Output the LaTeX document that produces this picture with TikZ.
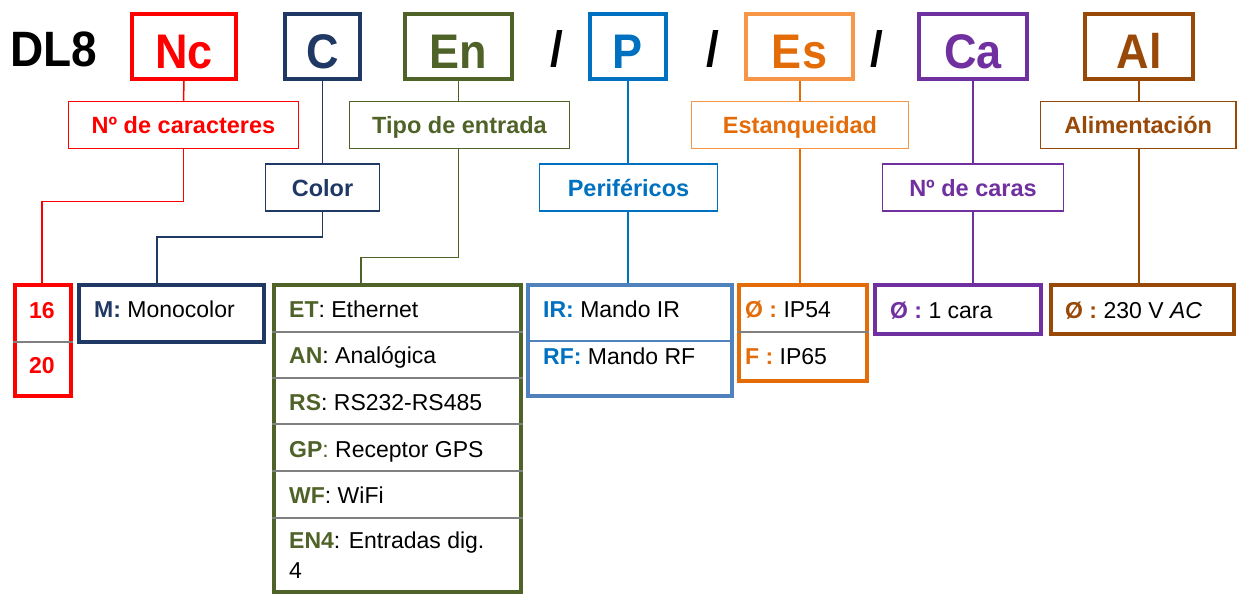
\documentclass[tikz,border=0pt]{standalone}
\usepackage{fontspec}
\setmainfont{Liberation Sans}
\definecolor{colNc}{HTML}{FF0000}
\definecolor{colC}{HTML}{1F3864}
\definecolor{colEn}{HTML}{4F6228}
\definecolor{colP}{HTML}{0070C0}
\definecolor{colPbox}{HTML}{4F81BD}
\definecolor{colEsL}{HTML}{F79646}
\definecolor{colEs}{HTML}{E36C09}
\definecolor{colCa}{HTML}{7030A0}
\definecolor{colAl}{HTML}{984807}
\definecolor{colDiv}{HTML}{808080}
\newcommand{\tallt}[1]{\scalebox{1}[1.08]{#1}}
\begin{document}
\begin{tikzpicture}[x=1pt,y=-1pt,
  topbox/.style={draw, line width=4pt, inner sep=0pt, minimum height=65pt,
    text height=43pt, text depth=0pt, font=\fontsize{45}{54}\selectfont\bfseries},
  labbox/.style={draw, line width=1.5pt, inner sep=0pt, minimum height=47pt,
    text height=17pt, text depth=0pt, font=\fontsize{23.5}{28}\selectfont\bfseries},
  botbox/.style={draw, line width=3.5pt, inner sep=0pt},
  bigtxt/.style={inner sep=0pt, anchor=base, font=\fontsize{46}{55}\selectfont\bfseries},
  txt/.style={anchor=base west, inner sep=0pt, font=\fontsize{23}{27}\selectfont},
  conn/.style={line width=1.5pt},
  divline/.style={line width=2pt, draw=colDiv}]
\useasboundingbox (0,0) rectangle (1237,595);

% title and slashes
\node[bigtxt, anchor=base west] (dl) at (10,66) {\tallt{DL8}};
\node[bigtxt] (s1) at (557,66) {\tallt{/}};
\node[bigtxt] (s2) at (713,66) {\tallt{/}};
\node[bigtxt] (s3) at (877,66) {\tallt{/}};

% top boxes
\node[topbox, draw=colNc, text=colNc, minimum width=104pt] (Nc) at (184,46.5) {\tallt{Nc}};
\node[topbox, draw=colC, text=colC, minimum width=75pt] (C) at (322.5,46.5) {\tallt{C}};
\node[topbox, draw=colEn, text=colEn, minimum width=107pt] (En) at (458.5,46.5) {\tallt{En}};
\node[topbox, draw=colP, text=colP, minimum width=76pt] (P) at (628,46.5) {\tallt{P}};
\node[topbox, draw=colEsL, text=colEs, minimum width=107pt] (Es) at (799.5,46.5) {\tallt{Es}};
\node[topbox, draw=colCa, text=colCa, minimum width=108pt] (Ca) at (973,46.5) {\tallt{Ca}};
\node[topbox, draw=colAl, text=colAl, minimum width=108pt] (Al) at (1139,46.5) {\tallt{Al}};

% label boxes
\node[labbox, draw=colNc, text=colNc, minimum width=230pt] (lNc) at (183.5,125) {Nº de caracteres};
\node[labbox, draw=colC, text=colC, minimum width=114pt] (lC) at (322.5,187.5) {Color};
\node[labbox, draw=colEn, text=colEn, minimum width=220pt] (lEn) at (459.5,125) {Tipo de entrada};
\node[labbox, draw=colP, text=colP, minimum width=178pt] (lP) at (628.5,187.5) {Periféricos};
\node[labbox, draw=colEsL, text=colEs, minimum width=217pt] (lEs) at (800,125) {Estanqueidad};
\node[labbox, draw=colCa, text=colCa, minimum width=181pt] (lCa) at (973,187.5) {Nº de caras};
\node[labbox, draw=colAl, text=colAl, minimum width=195.5pt] (lAl) at (1138.25,125) {Alimentación};

% bottom boxes
\node[botbox, draw=colNc, minimum width=56pt, minimum height=111pt] (bNc) at (43,340.5) {};
\node[botbox, draw=colC, minimum width=185pt, minimum height=57pt] (bC) at (171.5,313.5) {};
\node[botbox, draw=colEn, minimum width=247pt, minimum height=307pt] (bEn) at (397.5,438.5) {};
\node[botbox, draw=colPbox, minimum width=204pt, minimum height=111pt] (bP) at (630,340.5) {};
\node[botbox, draw=colEs, minimum width=128pt, minimum height=96pt] (bEs) at (803,333) {};
\node[botbox, draw=colCa, minimum width=166pt, minimum height=49pt] (bCa) at (958,309.5) {};
\node[botbox, draw=colAl, minimum width=183pt, minimum height=49pt] (bAl) at (1142.5,309.5) {};

% dividers
\draw[divline] (bNc.west |- 0,342) -- (bNc.east |- 0,342);
\foreach \yy in {332,378,424,471,518}
  \draw[divline] (bEn.west |- 0,\yy) -- (bEn.east |- 0,\yy);
\draw[line width=1.5pt, draw=colPbox] (bP.west |- 0,341) -- (bP.east |- 0,341);
\draw[divline] (bEs.west |- 0,332) -- (bEs.east |- 0,332);

% connectors
\draw[conn, colNc] (Nc.south) -- (lNc.north);
\draw[conn, colNc] (lNc.south) -- ++(0,52) -| ([xshift=-1pt]bNc.north);
\draw[conn, colC] (C.south) -- (lC.north);
\draw[conn, colC] (lC.south) -- ++(0,25) -| ([xshift=-14.5pt]bC.north);
\draw[conn, colEn] (En.south) -- (En.south |- lEn.north);
\draw[conn, colEn] (En.south |- lEn.south) -- ++(0,108) -| ([xshift=-36.5pt]bEn.north);
\draw[conn, colP] (P.south) -- (P.south |- lP.north);
\draw[conn, colP] (P.south |- lP.south) -- (P.south |- bP.north);
\draw[conn, colEs] (lEs.south |- Es.south) -- (lEs.north);
\draw[conn, colEs] (lEs.south) -- (lEs.south |- bEs.north);
\draw[conn, colCa] (Ca.south) -- (lCa.north);
\draw[conn, colCa] (lCa.south) -- (lCa.south |- bCa.north);
\draw[conn, colAl] (Al.south) -- (Al.south |- lAl.north);
\draw[conn, colAl] (Al.south |- lAl.south) -- (Al.south |- bAl.north);

% texts: Nc
\node[txt, anchor=base, text=colNc, font=\fontsize{23}{27}\selectfont\bfseries] (t16) at (42,318) {16};
\node[txt, anchor=base, text=colNc, font=\fontsize{23}{27}\selectfont\bfseries] (t20) at (42,373) {20};
% C
\node[txt] (tM) at (94,317) {\textbf{\color{colC}M:} Monocolor};
% En
\node[txt] (tET) at (289,317) {\textbf{\color{colEn}ET}: Ethernet};
\node[txt] (tAN) at (289,363) {\textbf{\color{colEn}AN}: Analógica};
\node[txt] (tRS) at (289,410) {\textbf{\color{colEn}RS}: RS232-RS485};
\node[txt] (tGP) at (289,457) {{\color{colEn}\textbf{GP}:} Receptor GPS};
\node[txt] (tWF) at (289,503) {\textbf{\color{colEn}WF}: WiFi};
\node[txt] (tEN) at (289,548) {\textbf{\color{colEn}EN4}: Entradas dig.};
\node[txt] (tEN2) at (289,578) {4};
% P
\node[txt] (tIR) at (543,317) {\textbf{\color{colP}IR:} Mando IR};
\node[txt] (tRF) at (543,364) {\textbf{\color{colP}RF:} Mando RF};
% Es
\node[txt] (tIP54) at (745,317) {\textbf{\color{colEs}Ø :} IP54};
\node[txt] (tIP65) at (745,364) {\textbf{\color{colEs}F :} IP65};
% Ca
\node[txt] (tCa) at (890,318) {\textbf{\color{colCa}Ø :} 1 cara};
% Al
\node[txt] (tAl) at (1065,318) {\textbf{\color{colAl}Ø :} 230 V \textit{AC}};
\end{tikzpicture}
\end{document}
